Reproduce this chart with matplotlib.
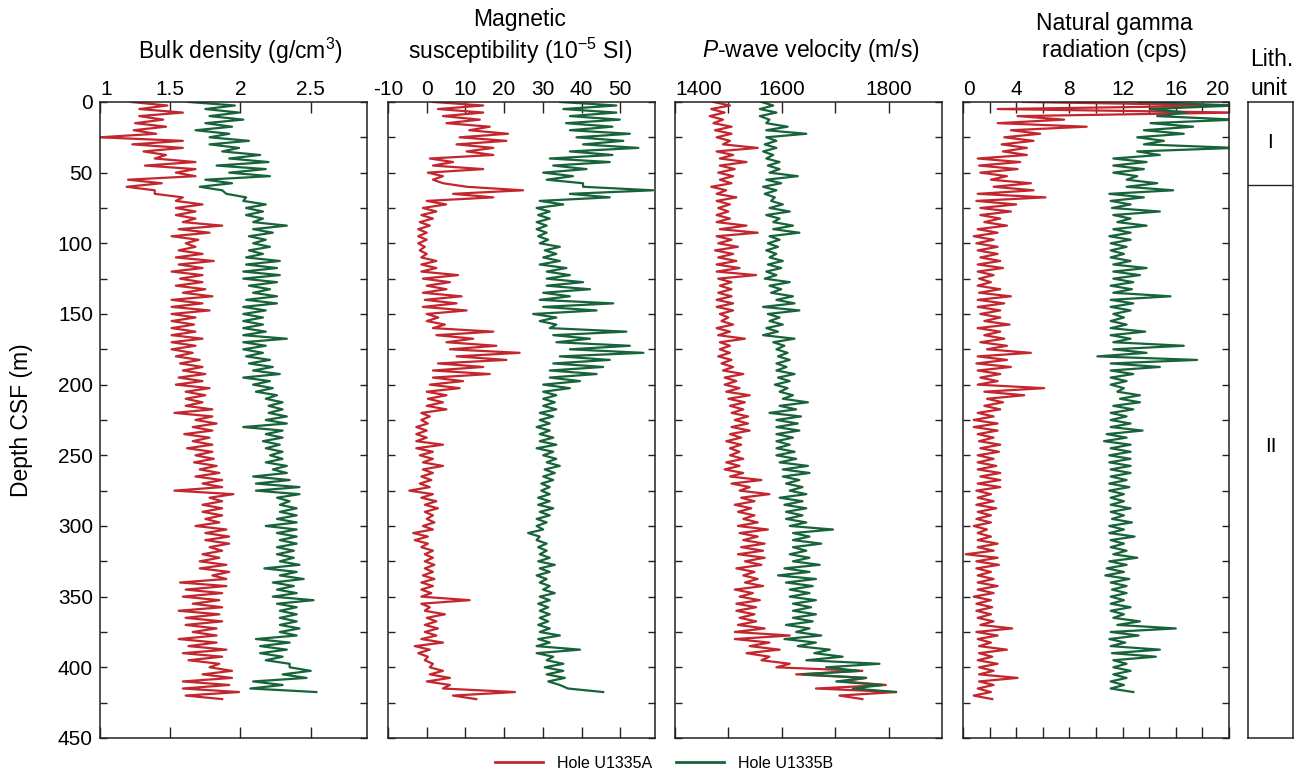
import numpy as np
import matplotlib
matplotlib.use("Agg")
import matplotlib.pyplot as plt

plt.rcParams['font.family'] = ['Liberation Sans', 'DejaVu Sans']
plt.rcParams['mathtext.fontset'] = 'custom'
plt.rcParams['mathtext.rm'] = 'Liberation Sans'
plt.rcParams['mathtext.it'] = 'Liberation Sans:italic'
plt.rcParams['axes.unicode_minus'] = False

# depth grid (m CSF), values read every 5 m: low / high edge of the log band
depth_a = np.arange(0, 425, 5)   # Hole U1335A
depth_b = np.arange(0, 420, 5)   # Hole U1335B

# Bulk density (g/cm3)
bd_a_lo = [1.22, 1.28, 1.28, 1.25, 1.24, 1.00, 1.23, 1.31, 1.39, 1.32,
           1.54, 1.20, 1.19, 1.39, 1.54, 1.54, 1.54, 1.59, 1.56, 1.51,
           1.61, 1.56, 1.54, 1.56, 1.51, 1.57, 1.54, 1.59, 1.51, 1.51,
           1.51, 1.51, 1.51, 1.51, 1.51, 1.51, 1.54, 1.57, 1.59, 1.56,
           1.54, 1.61, 1.61, 1.61, 1.53, 1.68, 1.66, 1.60, 1.66, 1.62,
           1.68, 1.67, 1.71, 1.68, 1.73, 1.53, 1.78, 1.73, 1.73, 1.75,
           1.68, 1.75, 1.75, 1.78, 1.73, 1.71, 1.71, 1.80, 1.57, 1.61,
           1.59, 1.66, 1.56, 1.61, 1.61, 1.66, 1.56, 1.63, 1.59, 1.63,
           1.78, 1.73, 1.59, 1.59, 1.61]
bd_a_hi = [1.48, 1.59, 1.45, 1.47, 1.40, 1.59, 1.59, 1.47, 1.68, 1.68,
           1.68, 1.44, 1.39, 1.59, 1.73, 1.68, 1.68, 1.87, 1.78, 1.70,
           1.68, 1.73, 1.81, 1.73, 1.73, 1.73, 1.75, 1.80, 1.73, 1.78,
           1.68, 1.67, 1.68, 1.73, 1.68, 1.66, 1.71, 1.73, 1.75, 1.73,
           1.78, 1.75, 1.73, 1.80, 1.80, 1.83, 1.80, 1.78, 1.80, 1.80,
           1.81, 1.83, 1.85, 1.87, 1.87, 1.95, 1.87, 1.87, 1.87, 1.85,
           1.90, 1.92, 1.92, 1.87, 1.85, 1.90, 1.92, 1.90, 1.90, 1.87,
           1.85, 1.87, 1.85, 1.87, 1.83, 1.83, 1.83, 1.90, 1.87, 1.85,
           1.94, 1.94, 1.92, 1.99, 1.87]
bd_b_lo = [1.63, 1.75, 1.78, 1.75, 1.68, 1.78, 1.78, 1.87, 1.92, 1.83,
           1.92, 1.75, 1.71, 1.90, 2.02, 2.04, 2.04, 2.09, 2.09, 2.06,
           2.09, 2.06, 2.04, 2.04, 2.02, 2.02, 2.06, 2.09, 2.04, 2.02,
           2.02, 2.02, 2.02, 2.02, 2.02, 2.02, 2.04, 2.06, 2.09, 2.02,
           2.09, 2.11, 2.18, 2.20, 2.20, 2.18, 2.02, 2.18, 2.16, 2.18,
           2.21, 2.18, 2.23, 2.09, 2.11, 2.11, 2.26, 2.28, 2.28, 2.26,
           2.18, 2.26, 2.28, 2.26, 2.26, 2.28, 2.17, 2.28, 2.23, 2.26,
           2.23, 2.26, 2.28, 2.28, 2.28, 2.28, 2.11, 2.14, 2.14, 2.18,
           2.35, 2.30, 2.09, 2.07]
bd_b_hi = [1.96, 1.99, 2.02, 1.94, 1.92, 2.06, 1.99, 2.14, 2.20, 2.18,
           2.21, 1.94, 1.87, 2.04, 2.18, 2.16, 2.16, 2.33, 2.23, 2.18,
           2.21, 2.16, 2.28, 2.26, 2.28, 2.26, 2.21, 2.26, 2.26, 2.18,
           2.16, 2.16, 2.18, 2.33, 2.18, 2.16, 2.21, 2.23, 2.28, 2.21,
           2.23, 2.26, 2.30, 2.30, 2.33, 2.33, 2.30, 2.30, 2.28, 2.30,
           2.30, 2.33, 2.33, 2.35, 2.42, 2.42, 2.35, 2.40, 2.40, 2.40,
           2.40, 2.40, 2.40, 2.38, 2.38, 2.42, 2.40, 2.45, 2.38, 2.40,
           2.52, 2.40, 2.40, 2.40, 2.42, 2.40, 2.35, 2.33, 2.30, 2.35,
           2.50, 2.47, 2.30, 2.54]

# Magnetic susceptibility (10^-5 SI)
ms_a_lo = [1.6, 2.9, 4.2, 5.1, 11.0, 8.5, 7.7, 10.3, 0.8, 1.6,
           0.3, 1.6, 10.3, 6.8, 0.0, -1.0, -1.4, -1.8, -2.2, -2.2,
           -2.2, -1.8, -1.4, -1.4, -1.4, -1.0, 0.0, -1.0, -0.5, -1.0,
           0.0, 0.0, 1.6, 2.5, 5.1, 6.0, 7.7, 2.9, 1.6, 1.6,
           0.8, 0.0, 0.3, 0.0, -1.4, -1.4, -2.7, -2.7, -2.7, -2.7,
           -1.8, -1.0, -1.0, -1.4, -1.8, -4.5, -1.4, -0.5, -0.5, 0.0,
           -1.0, -3.5, -3.1, -1.4, -0.5, -0.5, -0.5, -1.0, -1.4, -1.4,
           -1.4, -1.4, -0.5, 0.0, -0.5, -0.5, -1.4, -3.1, -2.2, -0.5,
           0.8, 0.8, 0.0, 4.2, 6.8]
ms_a_hi = [14.6, 14.6, 13.7, 16.3, 21.0, 20.6, 17.2, 17.2, 6.8, 14.6,
           4.2, 4.2, 24.9, 17.2, 5.0, 2.5, 1.6, 0.8, 0.0, 0.0,
           -0.5, 0.0, 2.5, 2.5, 8.1, 6.0, 5.1, 9.0, 7.7, 10.3,
           3.0, 4.7, 17.2, 12.0, 18.0, 24.0, 20.6, 14.6, 16.3, 9.4,
           8.5, 5.1, 4.2, 5.1, 0.8, 0.3, 0.0, 0.0, 4.2, 1.6,
           1.6, 4.2, 1.6, 1.2, 0.8, 1.6, 2.5, 2.9, 1.6, 2.0,
           1.6, 0.3, 0.3, 1.6, 1.6, 2.0, 1.6, 2.0, 1.6, 1.2,
           11.1, 0.8, 4.7, 2.5, 2.9, 2.5, 4.2, 0.8, 0.3, 1.6,
           4.2, 6.0, 6.0, 22.8, 12.8]
ms_b_lo = [34.4, 35.3, 37.0, 36.0, 37.0, 38.7, 40.4, 37.0, 31.8, 32.7,
           30.1, 31.0, 40.4, 37.0, 29.2, 28.4, 28.8, 28.4, 28.4, 28.8,
           29.2, 30.5, 30.1, 29.2, 31.0, 31.0, 31.0, 30.1, 29.2, 30.1,
           27.5, 29.2, 31.8, 32.7, 33.5, 37.0, 34.4, 32.7, 31.8, 31.8,
           30.1, 30.1, 30.1, 30.1, 29.2, 29.2, 28.4, 29.2, 29.2, 28.4,
           30.1, 31.0, 30.5, 30.1, 29.6, 29.6, 28.8, 28.8, 29.2, 28.4,
           28.4, 26.2, 28.4, 28.8, 29.2, 28.8, 29.2, 28.4, 29.2, 30.1,
           29.2, 28.8, 29.2, 29.2, 28.8, 29.2, 28.8, 28.4, 28.4, 31.0,
           30.5, 31.0, 31.4, 36.5]
ms_b_hi = [49.0, 49.0, 49.9, 48.0, 52.5, 50.8, 54.7, 48.0, 47.3, 41.3,
           37.8, 40.4, 58.5, 47.3, 35.3, 31.8, 31.8, 31.0, 31.0, 31.4,
           34.4, 33.5, 34.4, 36.1, 37.0, 40.4, 42.2, 37.0, 48.2, 43.9,
           33.5, 33.5, 51.6, 42.2, 52.5, 56.0, 47.3, 45.6, 43.9, 39.6,
           37.0, 33.5, 33.1, 33.5, 32.7, 31.8, 31.8, 32.7, 33.5, 32.7,
           33.5, 34.4, 33.1, 32.7, 31.8, 31.8, 31.8, 32.7, 31.8, 31.0,
           30.1, 29.2, 31.0, 31.0, 31.8, 33.1, 31.8, 31.0, 31.8, 33.1,
           31.8, 31.4, 31.8, 31.4, 31.8, 34.4, 31.8, 39.6, 32.7, 35.3,
           35.3, 35.7, 34.4, 45.6]

# P-wave velocity (m/s)
pw_a_lo = [1472, 1468, 1465, 1472, 1475, 1478, 1490, 1478, 1484, 1484,
           1481, 1484, 1468, 1478, 1478, 1481, 1478, 1478, 1484, 1478,
           1481, 1475, 1481, 1478, 1478, 1481, 1484, 1481, 1478, 1478,
           1484, 1487, 1478, 1481, 1484, 1484, 1481, 1487, 1490, 1493,
           1493, 1496, 1500, 1503, 1506, 1512, 1506, 1503, 1496, 1503,
           1503, 1496, 1493, 1503, 1506, 1521, 1524, 1512, 1518, 1528,
           1518, 1521, 1528, 1524, 1518, 1531, 1515, 1528, 1531, 1512,
           1521, 1515, 1515, 1521, 1518, 1512, 1512, 1540, 1534, 1562,
           1590, 1627, 1714, 1664, 1708]
pw_a_hi = [1503, 1493, 1490, 1506, 1506, 1503, 1555, 1509, 1534, 1512,
           1509, 1506, 1496, 1515, 1503, 1500, 1503, 1534, 1555, 1506,
           1518, 1509, 1515, 1521, 1552, 1506, 1506, 1506, 1509, 1509,
           1500, 1509, 1503, 1531, 1503, 1503, 1506, 1509, 1528, 1515,
           1521, 1540, 1531, 1528, 1537, 1537, 1540, 1524, 1524, 1521,
           1528, 1521, 1528, 1562, 1540, 1577, 1549, 1543, 1549, 1555,
           1574, 1555, 1568, 1565, 1568, 1562, 1549, 1555, 1565, 1546,
           1559, 1552, 1549, 1552, 1568, 1615, 1577, 1596, 1577, 1615,
           1751, 1758, 1795, 1814, 1751]
pw_b_lo = [1562, 1559, 1559, 1571, 1571, 1571, 1568, 1565, 1571, 1574,
           1577, 1571, 1565, 1568, 1580, 1577, 1571, 1584, 1584, 1577,
           1574, 1571, 1577, 1574, 1571, 1568, 1577, 1580, 1590, 1565,
           1574, 1577, 1571, 1565, 1584, 1590, 1593, 1590, 1590, 1593,
           1587, 1596, 1602, 1596, 1577, 1590, 1590, 1590, 1590, 1590,
           1590, 1596, 1602, 1602, 1608, 1615, 1596, 1605, 1608, 1608,
           1615, 1621, 1621, 1621, 1615, 1621, 1605, 1593, 1608, 1615,
           1615, 1621, 1621, 1621, 1608, 1627, 1605, 1630, 1661, 1646,
           1683, 1640, 1702, 1733]
pw_b_hi = [1584, 1590, 1577, 1611, 1646, 1590, 1590, 1584, 1596, 1596,
           1630, 1599, 1590, 1587, 1602, 1615, 1596, 1621, 1633, 1596,
           1593, 1590, 1602, 1599, 1590, 1615, 1599, 1621, 1624, 1633,
           1596, 1602, 1593, 1624, 1605, 1611, 1615, 1609, 1624, 1615,
           1611, 1621, 1649, 1627, 1636, 1630, 1633, 1621, 1615, 1624,
           1627, 1649, 1652, 1633, 1639, 1646, 1639, 1646, 1639, 1646,
           1696, 1652, 1674, 1646, 1652, 1671, 1652, 1664, 1658, 1652,
           1664, 1655, 1664, 1658, 1652, 1674, 1664, 1690, 1714, 1783,
           1745, 1758, 1789, 1814]

# Natural gamma radiation (cps)
ng_a_lo = [4.5, 2.6, 4.1, 2.6, 3.6, 3.1, 2.9, 3.0, 1.1, 1.2,
           1.3, 2.1, 2.3, 1.1, 1.0, 1.3, 1.3, 1.6, 1.1, 0.8,
           1.0, 1.1, 1.3, 1.1, 1.1, 1.2, 1.1, 1.2, 1.1, 1.1,
           1.3, 1.6, 1.1, 1.6, 1.3, 1.8, 1.1, 1.0, 1.1, 1.3,
           1.1, 1.6, 1.8, 1.6, 1.1, 0.8, 0.8, 1.1, 1.2, 1.3,
           1.1, 1.1, 1.1, 1.3, 1.1, 1.0, 1.1, 1.0, 1.1, 1.0,
           0.8, 1.1, 1.1, 1.1, 0.2, 1.0, 1.0, 1.1, 1.1, 1.1,
           0.8, 1.0, 1.0, 1.1, 1.3, 1.0, 1.1, 1.2, 1.2, 1.1,
           1.2, 1.2, 1.2, 1.1, 0.8]
ng_a_hi = [20.5, 20.5, 7.6, 9.3, 5.8, 5.3, 4.8, 4.8, 4.3, 4.1,
           3.3, 5.1, 5.3, 6.2, 4.0, 3.6, 2.8, 3.3, 2.6, 2.3,
           2.6, 2.6, 2.8, 3.0, 2.3, 2.1, 2.8, 3.6, 3.1, 2.8,
           2.8, 3.5, 2.8, 3.1, 3.3, 5.1, 3.3, 3.6, 2.8, 2.6,
           6.1, 4.6, 3.0, 2.8, 2.3, 2.6, 2.6, 2.3, 2.8, 2.7,
           2.3, 2.5, 2.8, 2.8, 2.8, 2.1, 2.3, 2.5, 2.1, 2.1,
           1.8, 2.1, 2.6, 2.3, 2.6, 2.7, 2.1, 2.3, 2.6, 2.3,
           2.1, 2.2, 2.1, 2.3, 3.7, 2.6, 2.1, 3.3, 2.2, 2.6,
           2.3, 4.1, 2.3, 2.1, 2.2]
ng_b_lo = [13.2, 14.1, 14.6, 14.1, 13.6, 13.1, 13.6, 13.1, 11.3, 11.3,
           11.3, 12.3, 12.3, 11.0, 11.1, 11.2, 11.3, 11.6, 11.3, 11.0,
           11.1, 11.1, 11.1, 11.3, 11.3, 11.3, 11.1, 11.3, 11.1, 11.1,
           11.3, 11.1, 11.1, 11.1, 11.3, 11.3, 10.1, 11.1, 11.1, 11.1,
           11.1, 11.6, 11.8, 11.3, 11.1, 11.1, 11.1, 10.8, 10.6, 11.1,
           11.0, 11.0, 11.1, 11.1, 11.0, 11.0, 11.1, 11.1, 11.1, 11.2,
           11.0, 11.0, 11.1, 11.1, 11.3, 11.0, 10.8, 10.7, 11.1, 11.2,
           11.1, 11.1, 11.1, 11.3, 11.6, 11.1, 11.0, 11.1, 11.2, 11.3,
           11.3, 11.3, 11.1, 11.1]
ng_b_hi = [20.5, 16.8, 20.5, 17.3, 16.6, 15.1, 20.5, 14.8, 13.8, 13.6,
           13.1, 14.6, 15.8, 13.6, 12.6, 14.8, 12.6, 13.8, 12.6, 12.6,
           12.3, 12.1, 12.6, 13.8, 13.3, 12.8, 12.7, 15.6, 12.8, 12.6,
           12.1, 12.3, 13.7, 12.6, 16.6, 13.8, 17.6, 14.8, 12.8, 12.3,
           12.1, 13.3, 13.3, 12.8, 12.3, 12.6, 13.5, 12.3, 12.6, 12.6,
           12.6, 12.6, 12.6, 12.3, 12.5, 12.1, 12.1, 12.6, 12.1, 12.7,
           12.1, 12.9, 12.1, 12.3, 13.1, 12.3, 12.1, 12.5, 12.3, 12.3,
           12.1, 12.6, 12.1, 13.3, 16.0, 13.2, 12.2, 14.8, 14.5, 12.3,
           12.6, 12.3, 12.1, 12.8]

# lithologic units
unit_names = ['I', 'II']
unit_tops = [0, 59]
unit_label_depths = [29, 244]

RED = '#c4262e'
GREEN = '#17643a'
INK = '#222222'


def band(depth, lo, hi):
    # alternate low/high readings down the hole
    d = np.column_stack([depth, depth + 2.5]).ravel()
    v = np.column_stack([lo, hi]).ravel()
    return v, d


def style_axis(ax, xlim, major, labels, minor=None):
    ax.set_xlim(*xlim)
    ax.set_ylim(450, 0)
    ax.set_xticks(major)
    ax.set_xticklabels(labels)
    if minor is not None:
        ax.set_xticks(minor, minor=True)
    ax.tick_params(axis='x', which='both', direction='in', top=True, bottom=True,
                   labeltop=True, labelbottom=False, length=8, width=1,
                   labelsize=15, pad=2, color=INK)
    ax.set_yticks(np.arange(0, 451, 50))
    ax.set_yticks(np.arange(25, 451, 50), minor=True)
    ax.tick_params(axis='y', which='both', direction='in', left=True, right=True,
                   length=5, width=1, labelsize=15, labelleft=False, color=INK)
    for s in ax.spines.values():
        s.set_linewidth(1.1)
        s.set_color(INK)


fig = plt.figure(figsize=(13.03, 7.76), dpi=100)
bottom, height = 0.049, 0.8196
ax1 = fig.add_axes([0.0767, bottom, 0.2049, height])
ax2 = fig.add_axes([0.2978, bottom, 0.2049, height])
ax3 = fig.add_axes([0.5180, bottom, 0.2049, height])
ax4 = fig.add_axes([0.7391, bottom, 0.2041, height])
axl = fig.add_axes([0.9578, bottom, 0.0345, height])

series = [
    (ax1, bd_a_lo, bd_a_hi, bd_b_lo, bd_b_hi),
    (ax2, ms_a_lo, ms_a_hi, ms_b_lo, ms_b_hi),
    (ax3, pw_a_lo, pw_a_hi, pw_b_lo, pw_b_hi),
    (ax4, ng_a_lo, ng_a_hi, ng_b_lo, ng_b_hi),
]
for ax, alo, ahi, blo, bhi in series:
    x, y = band(depth_a, alo, ahi)
    ax.plot(x, y, color=RED, lw=1.6)
    x, y = band(depth_b, blo, bhi)
    ax.plot(x, y, color=GREEN, lw=1.6)

style_axis(ax1, (1, 2.9), [1, 1.5, 2, 2.5], ['1', '1.5', '2', '2.5'])
style_axis(ax2, (-10, 59), np.arange(-10, 51, 10), [str(v) for v in range(-10, 51, 10)])
style_axis(ax3, (1400, 1900), [1400, 1600, 1800], ['1400', '1600', '1800'], minor=[1500, 1700])
style_axis(ax4, (0, 20), np.arange(0, 21, 4), [str(v) for v in range(0, 21, 4)],
           minor=np.arange(2, 20, 4))

ax1.tick_params(axis='y', labelleft=True, pad=5)
ax1.xaxis.get_majorticklabels()[0].set_ha('left')
ax3.xaxis.get_majorticklabels()[0].set_ha('left')
ax4.xaxis.get_majorticklabels()[0].set_ha('left')
ax4.xaxis.get_majorticklabels()[-1].set_ha('right')

# lithology column
axl.set_xlim(0, 1)
axl.set_ylim(450, 0)
axl.set_xticks([])
axl.set_yticks([])
for s in axl.spines.values():
    s.set_linewidth(1.1)
    s.set_color(INK)
for top in unit_tops[1:]:
    axl.axhline(top, color=INK, lw=1)
for name, d in zip(unit_names, unit_label_depths):
    axl.text(0.5, d, name, ha='center', va='center', fontsize=15)

# headers
fig.text(240 / 1303, 1 - 51 / 776, 'Bulk density (g/cm$^3$)', ha='center', va='center', fontsize=16.5)
fig.text(520 / 1303, 1 - 37 / 776, 'Magnetic\nsusceptibility (10$^{-5}$ SI)', ha='center',
         va='center', fontsize=16.5, linespacing=1.2)
fig.text(811 / 1303, 1 - 51 / 776, '$P$-wave velocity (m/s)', ha='center', va='center', fontsize=16.5)
fig.text(1114 / 1303, 1 - 37 / 776, 'Natural gamma\nradiation (cps)', ha='center',
         va='center', fontsize=16.5, linespacing=1.2)
fig.text(1250 / 1303, 1 - 74 / 776, 'Lith.\nunit', ha='left', va='center', fontsize=16.5,
         linespacing=1.35)
fig.text(22 / 1303, 1 - 420 / 776, 'Depth CSF (m)', rotation=90, ha='center', va='center',
         fontsize=16.5)

# legend
h1, = ax1.plot([], [], color=RED, lw=2)
h2, = ax1.plot([], [], color=GREEN, lw=2)
fig.legend([h1, h2], ['Hole U1335A', 'Hole U1335B'], loc='center', ncol=2, frameon=False,
           bbox_to_anchor=(664 / 1303, 1 - 763 / 776), fontsize=11.5, handlelength=3.0,
           handletextpad=0.9, columnspacing=1.5)

fig.savefig('out.png', dpi=100)
